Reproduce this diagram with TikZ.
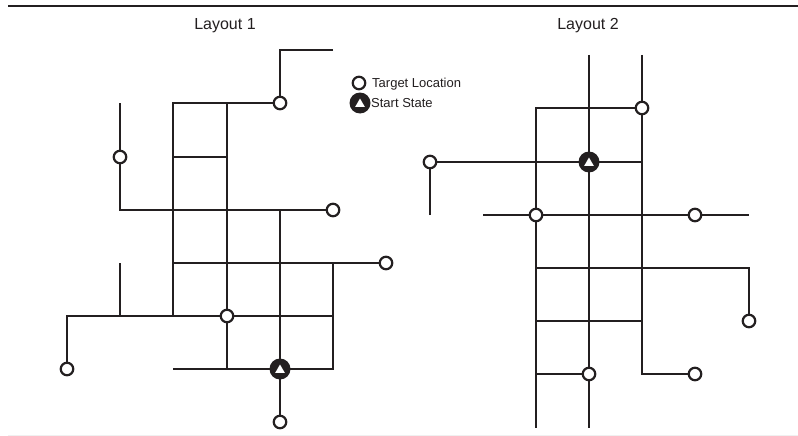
\documentclass[tikz,border=0pt]{standalone}
\usepackage{fontspec}
\setmainfont{Liberation Sans}
\usetikzlibrary{shapes.geometric}
\definecolor{ink}{HTML}{231F20}
\begin{document}
\begin{tikzpicture}[x=1pt,y=-1pt,
  road/.style={draw=ink,line width=2.2pt},
  target/.style={circle,draw=ink,fill=white,line width=2.2pt,minimum size=12.5pt,inner sep=0pt},
  startst/.style={circle,fill=ink,minimum size=21pt,inner sep=0pt},
  tri/.style={regular polygon,regular polygon sides=3,fill=white,minimum size=11pt,inner sep=0pt},
  title/.style={font=\fontsize{16}{19}\selectfont,text=ink},
  legend/.style={font=\fontsize{13}{15}\selectfont,text=ink,anchor=west,inner sep=0pt}]
\useasboundingbox (0,0) rectangle (798,436);
\fill[white] (0,0) rectangle (798,436);
\draw[ink,line width=2.5pt] (8,6) -- (798,6);
\draw[black!6,line width=1pt] (8,435) -- (798,435);

% titles
\node[title] (t1) at (225,26) {Layout 1};
\node[title] (t2) at (588,26) {Layout 2};

% legend
\node[target] (lgT) at (359,83) {};
\node[startst] (lgS) at (360,103) {};
\node[tri] (lgSt) at (360,104) {};
\node[legend] (lgTt) at (372,84) {Target Location};
\node[legend] (lgSt2) at (371,103) {Start State};

% Layout 1 roads
\draw[road] (333,50) -- (280,50) -- (280,103) -- (173,103) -- (173,316);
\draw[road] (227,103) -- (227,369);
\draw[road] (173,157) -- (227,157);
\draw[road] (120,103) -- (120,210) -- (333,210);
\draw[road] (280,210) -- (280,422);
\draw[road] (173,263) -- (386,263);
\draw[road] (333,263) -- (333,369) -- (173,369);
\draw[road] (120,263) -- (120,316);
\draw[road] (67,369) -- (67,316) -- (333,316);

% Layout 1 locations
\node[target] (a1) at (280,103) {};
\node[target] (a2) at (120,157) {};
\node[target] (a3) at (333,210) {};
\node[target] (a4) at (386,263) {};
\node[target] (a5) at (227,316) {};
\node[target] (a6) at (67,369) {};
\node[target] (a7) at (280,422) {};
\node[startst] (s1) at (280,369) {};
\node[tri] (s1t) at (280,370) {};

% Layout 2 roads
\draw[road] (589,55) -- (589,428);
\draw[road] (642,55) -- (642,374) -- (695,374);
\draw[road] (642,108) -- (536,108) -- (536,428);
\draw[road] (430,215) -- (430,162) -- (642,162);
\draw[road] (483,215) -- (749,215);
\draw[road] (536,268) -- (749,268) -- (749,321);
\draw[road] (536,321) -- (642,321);
\draw[road] (536,374) -- (589,374);

% Layout 2 locations
\node[target] (b1) at (642,108) {};
\node[target] (b2) at (430,162) {};
\node[target] (b3) at (536,215) {};
\node[target] (b4) at (695,215) {};
\node[target] (b5) at (749,321) {};
\node[target] (b6) at (589,374) {};
\node[target] (b7) at (695,374) {};
\node[startst] (s2) at (589,162) {};
\node[tri] (s2t) at (589,163) {};
\end{tikzpicture}
\end{document}
